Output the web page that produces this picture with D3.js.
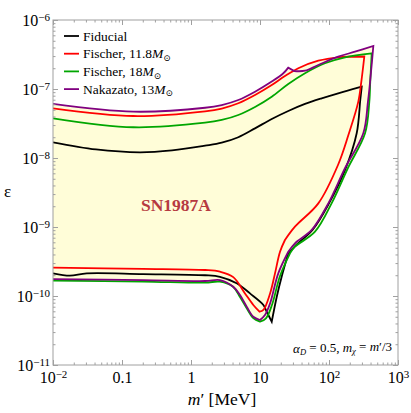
<!DOCTYPE html>
<html>
<head>
<meta charset="utf-8">
<script src="https://cdn.jsdelivr.net/npm/d3@7"></script>
<style>
  body { margin: 0; background: #fff; }
  text { font-family: "Liberation Serif", "DejaVu Serif", serif; }
</style>
</head>
<body>
<svg id="chart" width="411" height="413"></svg>
<script>
// contours in (m' [MeV], epsilon), upper branch -> right side -> lower branch
var fiducial = [
  [0.01,1.69e-8],[0.042,1.33e-8],[0.182,1.21e-8],[0.531,1.29e-8],[1.6,1.51e-8],[2.79,1.67e-8],[4.85,2.0e-8],[8.47,2.69e-8],[14.8,3.67e-8],[25.7,4.8e-8],[44.9,6.07e-8],[78.3,7.33e-8],[136,8.67e-8],[298,1.08e-7],
  [284,6.93e-8],[252,2.28e-8],[171,6.7e-9],[100,2.2e-9],[57.7,9.06e-10],[33.3,5.48e-10],[25.5,4.06e-10],[20.6,1.9e-10],[17.5,9.77e-11],[14.8,4.25e-11],
  [12.5,5.92e-11],[11.2,7.41e-11],[7.16,1.09e-10],[4.59,1.53e-10],[2.63,1.9e-10],[1.6,2.0e-10],[0.2,2.08e-10],[0.0308,2.13e-10],[0.0176,1.97e-10],[0.01,2.13e-10]
];
var fischer118 = [
  [0.01,5.25e-8],[0.146,4.06e-8],[1.6,4.75e-8],[2.79,5.21e-8],[4.85,6.21e-8],[8.47,8.18e-8],[14.8,1.14e-7],[23.0,1.54e-7],[35.9,2.0e-7],[70,2.57e-7],[136,2.88e-7],[325,2.96e-7],
  [296,1.35e-7],[266,6.55e-8],[191,2.15e-8],[135,7.92e-9],[70,2.2e-9],[32.1,1.01e-9],[23.0,6.48e-10],[19.5,4.38e-10],[16.5,2.13e-10],[14.0,1.09e-10],[11.2,6.27e-11],[9.84,5.92e-11],
  [8.0,7.41e-11],[6.06,1.09e-10],[4.1,1.88e-10],[2.63,2.25e-10],[1.6,2.38e-10],[0.2,2.48e-10],[0.01,2.57e-10]
];
var fischer18 = [
  [0.01,3.76e-8],[0.146,2.79e-8],[1.6,3.25e-8],[2.79,3.56e-8],[4.85,4.2e-8],[8.47,5.48e-8],[14.8,7.73e-8],[25.7,1.18e-7],[44.9,1.69e-7],[87.5,2.36e-7],[171,2.88e-7],[416,3.29e-7],
  [397,1.35e-7],[384,6.55e-8],[333,2.28e-8],[188,7.16e-9],[109,2.2e-9],[62.7,8.55e-10],[32.1,5.18e-10],[27.2,4.16e-10],[19.5,1.95e-10],[14.9,7.41e-11],[12.2,4.75e-11],[10.0,4.25e-11],
  [8.0,4.8e-11],[6.42,6.64e-11],[5.13,9.68e-11],[4.1,1.35e-10],[2.63,1.61e-10],[1.6,1.56e-10],[0.2,1.62e-10],[0.01,1.67e-10]
];
var nakazato13 = [
  [0.01,6.07e-8],[0.146,4.69e-8],[1.6,5.35e-8],[2.79,5.86e-8],[4.85,6.93e-8],[8.47,9.14e-8],[14.8,1.28e-7],[21.8,1.69e-7],[25.7,2.04e-7],[31.4,1.82e-7],[44.9,1.84e-7],[70,2.23e-7],[136,2.94e-7],[238,3.47e-7],[439,4.2e-7],
  [413,2.1e-7],[367,6.55e-8],[314,2.28e-8],[171,7.16e-9],[97.7,2.2e-9],[56.1,9.06e-10],[32.1,5.81e-10],[25.7,4.38e-10],[18.4,2.13e-10],[14.0,7.82e-11],[11.8,5.31e-11],[10.0,4.49e-11],
  [8.0,5.0e-11],[6.42,7.0e-11],[5.13,1.03e-10],[4.1,1.36e-10],[2.63,1.7e-10],[1.6,1.65e-10],[0.2,1.7e-10],[0.01,1.76e-10]
];
// indices where the contour has a sharp corner
var fiducialCorners   = [13, 20, 23];
var fischer118Corners = [11, 18, 23];
var fischer18Corners  = [11, 19, 23];
var nakazato13Corners = [8, 9, 14, 22, 26];

var seriesColors = ["#000000", "#ff0000", "#00a600", "#800080"];
// legend: [plain text, italic, subscript]
var legendLabels = [["Fiducial"], ["Fischer, 11.8", "M", "\u2299"], ["Fischer, 18", "M", "\u2299"], ["Nakazato, 13", "M", "\u2299"]];

var xTickValues = [1e-2, 1e-1, 1, 10, 1e2, 1e3];
var xTickLabels = [["10", "\u22122"], ["0.1"], ["1"], ["10"], ["10", "2"], ["10", "3"]];
var yTickValues = [1e-11, 1e-10, 1e-9, 1e-8, 1e-7, 1e-6];
var yTickLabels = [["10", "\u221211"], ["10", "\u221210"], ["10", "\u22129"], ["10", "\u22128"], ["10", "\u22127"], ["10", "\u22126"]];

var svg = d3.select("#chart");
var margin = {top: 20, right: 13, bottom: 48, left: 53},
    width  = 411 - margin.left - margin.right,
    height = 413 - margin.top - margin.bottom;

var x = d3.scaleLog().domain([1e-2, 1e3]).range([margin.left, margin.left + width]),
    y = d3.scaleLog().domain([1e-11, 1e-6]).range([margin.top + height, margin.top]);

var line = d3.line()
    .x(function(d) { return x(d[0]); })
    .y(function(d) { return y(d[1]); })
    .curve(d3.curveCatmullRom.alpha(0.5));

function contourPath(pts, corners) {
  var idx = [0].concat(corners, [pts.length - 1]);
  var d = "";
  for (var k = 0; k < idx.length - 1; k++) {
    var s = line(pts.slice(idx[k], idx[k + 1] + 1));
    if (k > 0) s = s.replace(/^M/, "L");
    d += s;
  }
  return d;
}

svg.append("clipPath").attr("id", "plot-clip")
  .append("rect")
    .attr("x", margin.left).attr("y", margin.top)
    .attr("width", width).attr("height", height);

var contours = [
  {pts: fiducial, corners: fiducialCorners},
  {pts: fischer118, corners: fischer118Corners},
  {pts: fischer18, corners: fischer18Corners},
  {pts: nakazato13, corners: nakazato13Corners}
];

var plot = svg.append("g").attr("clip-path", "url(#plot-clip)");

contours.forEach(function(c) {
  plot.append("path")
    .attr("d", contourPath(c.pts, c.corners) + "Z")
    .style("fill", "#fffdd8")
    .style("stroke", "none");
});

/* axes: major + minor ticks on all four sides, inward */
var frameColor = "#a0a0a0";
function styleAxis(g) {
  g.select(".domain").remove();
  g.selectAll(".tick line").style("stroke", frameColor);
}
function supLabels(g, labels, values) {
  g.selectAll(".tick text").each(function(d) {
    var i = values.indexOf(d);
    var t = d3.select(this).text("");
    t.append("tspan").text(labels[i][0]);
    if (labels[i].length > 1) {
      t.append("tspan").attr("dy", "-0.45em").style("font-size", "11px").text(labels[i][1]);
    }
  });
}

var minorX = x.ticks(), minorY = y.ticks();

svg.append("g").attr("transform", "translate(0," + (margin.top + height) + ")")
  .call(d3.axisBottom(x).tickValues(minorX).tickSize(-2.5).tickFormat(""))
  .call(styleAxis);
svg.append("g").attr("transform", "translate(0," + margin.top + ")")
  .call(d3.axisTop(x).tickValues(minorX).tickSize(-2.5).tickFormat(""))
  .call(styleAxis);
svg.append("g").attr("transform", "translate(" + margin.left + ",0)")
  .call(d3.axisLeft(y).tickValues(minorY).tickSize(-2.5).tickFormat(""))
  .call(styleAxis);
svg.append("g").attr("transform", "translate(" + (margin.left + width) + ",0)")
  .call(d3.axisRight(y).tickValues(minorY).tickSize(-2.5).tickFormat(""))
  .call(styleAxis);

var xAxis = svg.append("g").attr("transform", "translate(0," + (margin.top + height) + ")")
  .call(d3.axisBottom(x).tickValues(xTickValues).tickSize(-5).tickPadding(6.5))
  .call(styleAxis);
xAxis.selectAll(".tick text").style("font-size", "16px").style("fill", "#000")
  .style("font-family", "'Liberation Serif', serif");
xAxis.call(supLabels, xTickLabels, xTickValues);

var yAxis = svg.append("g").attr("transform", "translate(" + margin.left + ",0)")
  .call(d3.axisLeft(y).tickValues(yTickValues).tickSize(-5).tickPadding(3))
  .call(styleAxis);
yAxis.selectAll(".tick text").style("font-size", "16px").style("fill", "#000")
  .style("font-family", "'Liberation Serif', serif").attr("dy", "0.33em");
yAxis.call(supLabels, yTickLabels, yTickValues);

svg.append("g").attr("transform", "translate(0," + margin.top + ")")
  .call(d3.axisTop(x).tickValues(xTickValues).tickSize(-5).tickFormat(""))
  .call(styleAxis);
svg.append("g").attr("transform", "translate(" + (margin.left + width) + ",0)")
  .call(d3.axisRight(y).tickValues(yTickValues).tickSize(-5).tickFormat(""))
  .call(styleAxis);

svg.append("rect")
  .attr("x", margin.left).attr("y", margin.top)
  .attr("width", width).attr("height", height)
  .style("fill", "none").style("stroke", frameColor).style("stroke-width", 1);

contours.forEach(function(c, i) {
  plot.append("path")
    .attr("d", contourPath(c.pts, c.corners))
    .style("fill", "none")
    .style("stroke", seriesColors[i])
    .style("stroke-width", 1.8)
    .style("stroke-linejoin", "miter");
});

/* legend */
var legend = svg.append("g").attr("transform", "translate(64, 36)");
legendLabels.forEach(function(lab, i) {
  var row = legend.append("g").attr("transform", "translate(0," + (i * 17.7) + ")");
  row.append("line").attr("x1", 0).attr("x2", 15).attr("y1", 0).attr("y2", 0)
    .style("stroke", seriesColors[i]).style("stroke-width", 1.8);
  var t = row.append("text").attr("x", 19).attr("y", 4.5).style("font-size", "13.5px");
  t.append("tspan").text(lab[0]);
  if (lab.length > 1) {
    t.append("tspan").style("font-style", "italic").text(lab[1]);
    t.append("tspan").attr("dy", "0.3em").style("font-size", "9px").text(lab[2]);
  }
});

/* labels */
svg.append("text")
  .attr("x", 176).attr("y", 211)
  .style("font-size", "17.5px").style("font-weight", "bold")
  .style("fill", "#b63a41").style("text-anchor", "middle")
  .text("SN1987A");

var ann = svg.append("text")
  .attr("x", 392).attr("y", 353)
  .style("font-size", "13px").style("text-anchor", "end");
ann.append("tspan").style("font-style", "italic").text("\u03b1");
ann.append("tspan").attr("dy", "0.25em").style("font-size", "8.5px").style("font-style", "italic").text("D");
ann.append("tspan").attr("dy", "-0.25em").text(" = 0.5, ");
ann.append("tspan").style("font-style", "italic").text("m");
ann.append("tspan").attr("dy", "0.25em").style("font-size", "8.5px").style("font-style", "italic").text("\u03c7");
ann.append("tspan").attr("dy", "-0.25em").text(" = ");
ann.append("tspan").style("font-style", "italic").text("m");
ann.append("tspan").text("\u2032/3");

var xl = svg.append("text")
  .attr("x", 222).attr("y", 405)
  .style("font-size", "17.5px").style("text-anchor", "middle");
xl.append("tspan").style("font-style", "italic").text("m");
xl.append("tspan").text("\u2032 [MeV]");

svg.append("text")
  .attr("x", 4).attr("y", 197)
  .style("font-size", "17px")
  .text("\u03b5");
</script>
</body>
</html>
